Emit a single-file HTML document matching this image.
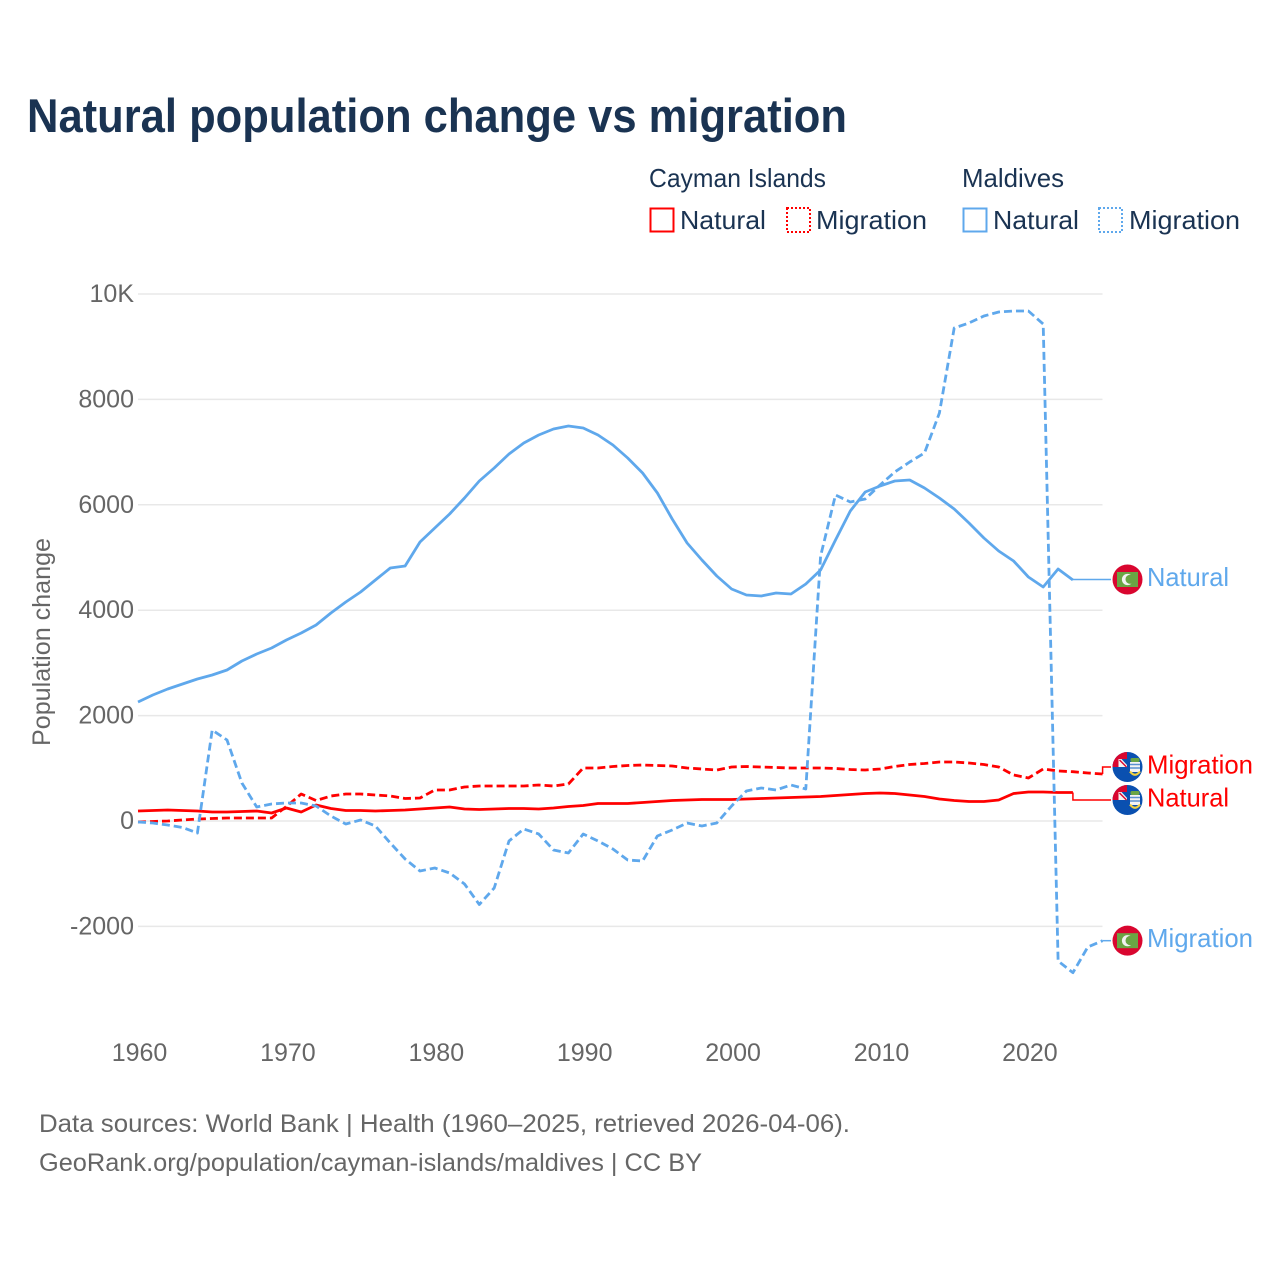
<!DOCTYPE html>
<html lang="en">
<head>
<meta charset="utf-8">
<title>Natural population change vs migration</title>
<style>
html,body{margin:0;padding:0;background:#fff;}
svg{display:block;font-family:"Liberation Sans",sans-serif;}
</style>
</head>
<body>
<svg id="chart" xmlns="http://www.w3.org/2000/svg" width="1280" height="1280" viewBox="0 0 1280 1280">
  <rect x="0" y="0" width="1280" height="1280" fill="#ffffff"/>
  <text x="27" y="132" font-size="47" font-weight="700" fill="#1a3352" textLength="820" lengthAdjust="spacingAndGlyphs">Natural population change vs migration</text>

  <g font-size="26" fill="#1a3352">
    <text x="649" y="187" textLength="177" lengthAdjust="spacingAndGlyphs">Cayman Islands</text>
    <text x="962" y="187" textLength="102" lengthAdjust="spacingAndGlyphs">Maldives</text>
    <rect x="650.5" y="208.5" width="23" height="23" fill="none" stroke="#ff0000" stroke-width="2"/>
    <text x="680" y="229" textLength="86" lengthAdjust="spacingAndGlyphs">Natural</text>
    <rect x="787" y="208" width="23" height="24" fill="none" stroke="#ff0000" stroke-width="2" stroke-dasharray="2 2"/>
    <text x="816" y="229" textLength="111" lengthAdjust="spacingAndGlyphs">Migration</text>
    <rect x="963.5" y="208.5" width="23" height="23" fill="none" stroke="#5fa8ec" stroke-width="2"/>
    <text x="993" y="229" textLength="86" lengthAdjust="spacingAndGlyphs">Natural</text>
    <rect x="1099" y="208" width="23" height="24" fill="none" stroke="#5fa8ec" stroke-width="2" stroke-dasharray="2 2"/>
    <text x="1129" y="229" textLength="111" lengthAdjust="spacingAndGlyphs">Migration</text>
  </g>

  <g id="grid"></g>
  <g id="yticks"></g>
  <g id="xticks"></g>
  <text transform="translate(50,642) rotate(-90)" text-anchor="middle" font-size="25" fill="#666666" textLength="208" lengthAdjust="spacingAndGlyphs">Population change</text>
  <g id="series"></g>
  <g id="ends"></g>

  <g font-size="25" fill="#666666">
    <text x="39" y="1132" textLength="811" lengthAdjust="spacingAndGlyphs">Data sources: World Bank | Health (1960–2025, retrieved 2026-04-06).</text>
    <text x="39" y="1171" textLength="663" lengthAdjust="spacingAndGlyphs">GeoRank.org/population/cayman-islands/maldives | CC BY</text>
  </g>
</svg>
<script>
const startYear = 1960;
const xTickYears = [1960, 1970, 1980, 1990, 2000, 2010, 2020];
const yTickValues = [-2000, 0, 2000, 4000, 6000, 8000, 10000];
const yTickLabels = ["-2000", "0", "2000", "4000", "6000", "8000", "10K"];

const caymanNatural = [190,199,209,199,190,171,171,180,190,152,
  247,171,304,237,199,199,190,199,209,228,
  247,266,228,218,228,237,237,228,247,275,
  294,332,332,332,351,370,389,398,408,408,
  408,417,427,436,446,455,465,484,503,522,
  531,522,493,465,417,389,370,370,398,522,
  550,550,541,541];
const caymanMigration = [-19,-9,0,19,38,47,57,57,57,57,
  275,512,389,474,512,512,493,474,427,436,
  588,588,645,664,664,664,664,683,664,702,
  1006,1006,1034,1053,1063,1053,1044,1006,987,968,
  1025,1034,1025,1015,1006,1006,1006,996,977,968,
  987,1034,1072,1091,1120,1120,1101,1072,1025,873,
  816,987,949,935,911,892];
const maldivesNatural = [2258,2391,2505,2600,2694,2770,2865,3036,3169,3283,
  3435,3567,3719,3947,4156,4345,4573,4801,4839,5294,
  5560,5825,6129,6452,6698,6964,7173,7324,7438,7495,
  7457,7324,7135,6888,6603,6224,5730,5275,4952,4649,
  4402,4288,4269,4326,4307,4497,4763,5332,5882,6243,
  6357,6452,6470,6319,6129,5920,5655,5370,5123,4934,
  4630,4440,4782,4573];
const maldivesMigration = [-19,-38,-76,-123,-228,1727,1537,721,266,323,
  342,342,285,95,-57,19,-95,-417,-721,-949,
  -892,-987,-1195,-1584,-1271,-380,-152,-247,-550,-607,
  -247,-380,-531,-740,-759,-285,-171,-38,-95,-38,
  285,569,626,588,683,607,5028,6186,6053,6110,
  6376,6622,6812,6983,7742,9355,9450,9583,9658,9677,
  9677,9431,-2657,-2878,-2391,-2271];

const RED = "#ff0000";
const BLUE = "#5fa8ec";
const NS = "http://www.w3.org/2000/svg";

function xScale(year) { return 138 + (year - 1960) * 14.84; }
function yScale(value) { return 821 - value * 0.0527; }

function make(tag, attrs, parent) {
  const el = document.createElementNS(NS, tag);
  for (const k in attrs) el.setAttribute(k, attrs[k]);
  parent.appendChild(el);
  return el;
}

const gridG = document.getElementById("grid");
const yTickG = document.getElementById("yticks");
yTickValues.forEach(function (v, i) {
  const line = make("line", {x1: 138, x2: 1102.5, y1: yScale(v), y2: yScale(v), stroke: "#e8e8e8", "stroke-width": 1.5}, gridG);
  
  
  const t = make("text", {x: 134, y: yScale(v) + 8, "text-anchor": "end", "font-size": 25, fill: "#666666"}, yTickG);
  
  
  t.textContent = yTickLabels[i];
});

const xTickG = document.getElementById("xticks");
xTickYears.forEach(function (yr) {
  const t = make("text", {x: xScale(yr) + 1.5, y: 1061, "text-anchor": "middle", "font-size": 25, fill: "#666666"}, xTickG);
  
  
  t.textContent = yr;
});

function drawLine(values, color, dashed, name) {
  const pts = values.map(function (v, i) {
    return xScale(startYear + i).toFixed(1) + "," + yScale(v).toFixed(1);
  }).join(" ");
  const attrs = {points: pts, fill: "none", stroke: color, "stroke-width": 2.8, "stroke-linejoin": "round"};
  if (dashed) attrs["stroke-dasharray"] = "8 4";
  const line = make("polyline", attrs, document.getElementById("series"));
  
  
}

function drawMaldivesFlag(g, cx, cy, id) {
  make("circle", {cx: cx, cy: cy, r: 15, fill: "#d9062f"}, g);
  make("rect", {x: cx - 10.5, y: cy - 7.5, width: 21, height: 15, fill: "#6aa544"}, g);
  make("circle", {cx: cx, cy: cy, r: 5.6, fill: "#f2f2f2"}, g);
  make("circle", {cx: cx + 2.6, cy: cy - 0.2, r: 4.6, fill: "#6aa544"}, g);
}

function drawCaymanFlag(g, cx, cy, id) {
  const cp = make("clipPath", {id: id}, g);
  make("circle", {cx: cx, cy: cy, r: 15}, cp);
  const inner = make("g", {"clip-path": "url(#" + id + ")"}, g);
  make("rect", {x: cx - 15, y: cy - 15, width: 30, height: 30, fill: "#0a50b0"}, inner);
  make("rect", {x: cx - 15, y: cy - 15, width: 14.5, height: 15, fill: "#d9062f"}, inner);
  make("polygon", {points: [cx - 9, cy - 8, cx - 0.5, cy - 8, cx - 0.5, cy, cx - 9, cy].join(","), fill: "#f4f4f4"}, inner);
  make("polygon", {points: [cx - 6, cy - 8, cx - 0.5, cy - 8, cx - 0.5, cy - 2].join(","), fill: "#0a50b0"}, inner);
  make("line", {x1: cx - 8, y1: cy - 7, x2: cx - 1, y2: cy, stroke: "#d9062f", "stroke-width": 1.4}, inner);
  make("rect", {x: cx + 3, y: cy - 9, width: 9, height: 4, rx: 1.5, fill: "#6aa544"}, inner);
  make("rect", {x: cx + 2.5, y: cy - 5, width: 10, height: 10, fill: "#f4f4f4"}, inner);
  make("line", {x1: cx + 2.5, y1: cy - 2.5, x2: cx + 12.5, y2: cy - 2.5, stroke: "#5a90d0", "stroke-width": 1.4}, inner);
  make("line", {x1: cx + 2.5, y1: cy + 1, x2: cx + 12.5, y2: cy + 1, stroke: "#5a90d0", "stroke-width": 1.4}, inner);
  make("path", {d: "M" + (cx + 2.5) + " " + (cy + 4.5) + " Q" + (cx + 7.5) + " " + (cy + 11) + " " + (cx + 12.5) + " " + (cy + 4.5), fill: "none", stroke: "#f0d040", "stroke-width": 2.2}, inner);
}

function drawEnd(values, color, label, labelWidth, dy, flag, key) {
  const ends = document.getElementById("ends");
  const lastIdx = values.length - 1;
  const lx = xScale(startYear + lastIdx);
  const ly = yScale(values[lastIdx]);
  const fy = ly + dy;
  const conn = make("path", {d: "M" + lx + " " + ly + " V" + fy + " H1111", fill: "none", stroke: color, "stroke-width": 1.5}, ends);
  
  
  const g = make("g", {}, ends);
  
  
  flag(g, 1127.5, fy, key + "-clip");
  const t = make("text", {x: 1147, y: fy + 6.5, "font-size": 26, fill: color, textLength: labelWidth, lengthAdjust: "spacingAndGlyphs"}, ends);
  
  
  t.textContent = label;
}

drawLine(caymanNatural, RED, false, "line-cayman-natural");
drawLine(caymanMigration, RED, true, "line-cayman-migration");
drawLine(maldivesNatural, BLUE, false, "line-maldives-natural");
drawLine(maldivesMigration, BLUE, true, "line-maldives-migration");

drawEnd(maldivesNatural, BLUE, "Natural", 82, -0.5, drawMaldivesFlag, "maldives-natural");
drawEnd(caymanMigration, RED, "Migration", 106, -7, drawCaymanFlag, "cayman-migration");
drawEnd(caymanNatural, RED, "Natural", 82, 7.5, drawCaymanFlag, "cayman-natural");
drawEnd(maldivesMigration, BLUE, "Migration", 106, 0, drawMaldivesFlag, "maldives-migration");
</script>
</body>
</html>
